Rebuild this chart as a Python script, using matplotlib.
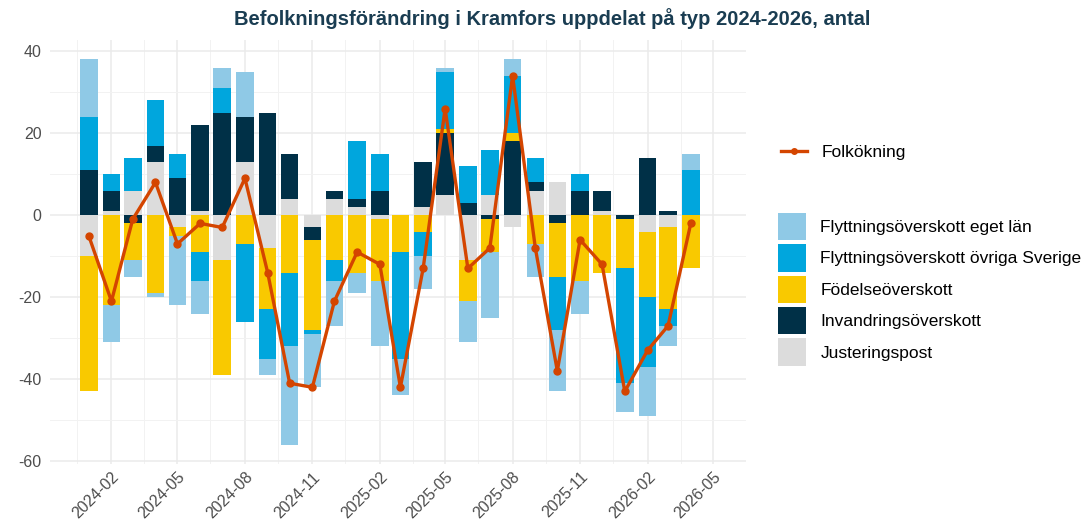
import numpy as np
import pandas as pd
import matplotlib
matplotlib.use('Agg')
import matplotlib.pyplot as plt
import matplotlib.dates as mdates
from matplotlib.lines import Line2D
from matplotlib.patches import Patch

plt.rcParams['font.family'] = ['Liberation Sans', 'DejaVu Sans']
plt.rcParams['axes.unicode_minus'] = False

# Data, monthly 2024-01 .. 2026-04
months = pd.date_range('2024-01-01', '2026-04-01', freq='MS')

justering = [-10, 1, 6, 13, -3, 1, -11, 13, -8, 4, -3, 4, 2, -1,
             0, 2, 5, -11, 5, -3, 6, 8, 0, 1, 0, -4, -3, 0]
invandring = [11, 5, -2, 4, 9, 21, 25, 11, 25, 11, -3, 2, 2, 6,
              0, 11, 15, 3, -1, 18, 2, -2, 6, 5, -1, 14, 1, 0]
fodelse = [-33, -22, -9, -19, -2, -9, -28, -7, -15, -14, -22, -11, -14, -15,
           -9, -4, 1, -10, -8, 2, -7, -13, -16, -14, -12, -16, -20, -13]
flytt_ovriga = [13, 4, 8, 11, 6, -7, 6, -19, -12, -18, -1, -5, 14, 9,
                -26, -6, 14, 9, 11, 14, 6, -13, 4, 0, -28, -17, -4, 11]
flytt_eget = [14, -9, -4, -1, -17, -8, 5, 11, -4, -24, -13, -11, -5, -16,
              -9, -8, 1, -10, -16, 4, -8, -15, -8, 0, -7, -12, -5, 4]
folkokning = [-5, -21, -1, 8, -7, -2, -3, 9, -14, -41, -42, -21, -9, -12,
              -42, -13, 26, -13, -8, 34, -8, -38, -6, -12, -43, -33, -27, -2]

# stacking order from zero outward
series = [
    ('Justeringspost', justering, '#dcdcdc'),
    ('Invandringsöverskott', invandring, '#003047'),
    ('Födelseöverskott', fodelse, '#f9c900'),
    ('Flyttningsöverskott övriga Sverige', flytt_ovriga, '#00a6dd'),
    ('Flyttningsöverskott eget län', flytt_eget, '#8fc9e6'),
]
line_color = '#d44500'

fig = plt.figure(figsize=(10.84, 5.29), dpi=100)
ax = fig.add_axes([0.046, 0.123, 0.642, 0.801])

pos_bottom = np.zeros(len(months))
neg_bottom = np.zeros(len(months))
for name, vals, col in series:
    v = np.array(vals, dtype=float)
    b = np.where(v >= 0, pos_bottom, neg_bottom)
    ax.bar(months, v, bottom=b, width=24, color=col, zorder=2)
    pos_bottom += np.where(v >= 0, v, 0)
    neg_bottom += np.where(v < 0, v, 0)

ax.plot(months, folkokning, color=line_color, lw=2.4, marker='o',
        markersize=5, zorder=3)

# axes
ax.set_ylim(-60.7, 42.7)
ax.set_xlim(pd.Timestamp('2023-11-09'), pd.Timestamp('2026-05-25'))
ax.set_yticks([-60, -40, -20, 0, 20, 40])
ax.set_yticks([-50, -30, -10, 10, 30], minor=True)
ax.xaxis.set_major_locator(mdates.MonthLocator(bymonth=[2, 5, 8, 11]))
ax.xaxis.set_major_formatter(mdates.DateFormatter('%Y-%m'))
minor_x = [d + pd.Timedelta(days=45) for d in
           pd.date_range('2023-11-01', '2026-05-01', freq='3MS')]
ax.set_xticks(minor_x, minor=True)
ax.grid(True, which='major', color='#ebebeb', lw=1.1, zorder=0)
ax.grid(True, which='minor', color='#f2f2f2', lw=0.7, zorder=0)
ax.set_axisbelow(True)
for s in ax.spines.values():
    s.set_visible(False)
ax.tick_params(which='both', length=0)
ax.tick_params(axis='y', labelsize=11.5, labelcolor='#4d4d4d', pad=6)
ax.tick_params(axis='x', labelsize=11.5, labelcolor='#4d4d4d', pad=4)
plt.setp(ax.get_xticklabels(), rotation=45, ha='right', rotation_mode='anchor')

fig.suptitle('Befolkningsförändring i Kramfors uppdelat på typ 2024-2026, antal',
             x=0.509, y=0.985, fontsize=14.5, fontweight='bold', color='#1a3d52')

# legends
h_line = [Line2D([0], [0], color=line_color, lw=2.4, marker='o', markersize=4)]
leg1 = fig.legend(h_line, ['Folkökning'], loc='center left',
                  bbox_to_anchor=(0.7065, 0.712), frameon=False, fontsize=12.5,
                  handlelength=1.45, handletextpad=0.85)
legend_order = ['Flyttningsöverskott eget län', 'Flyttningsöverskott övriga Sverige',
                'Födelseöverskott', 'Invandringsöverskott', 'Justeringspost']
colmap = {n: c for n, _, c in series}
h_fill = [Patch(facecolor=colmap[n]) for n in legend_order]
leg2 = fig.legend(h_fill, legend_order, loc='center left',
                  bbox_to_anchor=(0.7037, 0.453), frameon=False, fontsize=12.5,
                  handlelength=1.61, handleheight=2.05, labelspacing=0.23,
                  handletextpad=0.8)

fig.savefig('out.png', dpi=100)
